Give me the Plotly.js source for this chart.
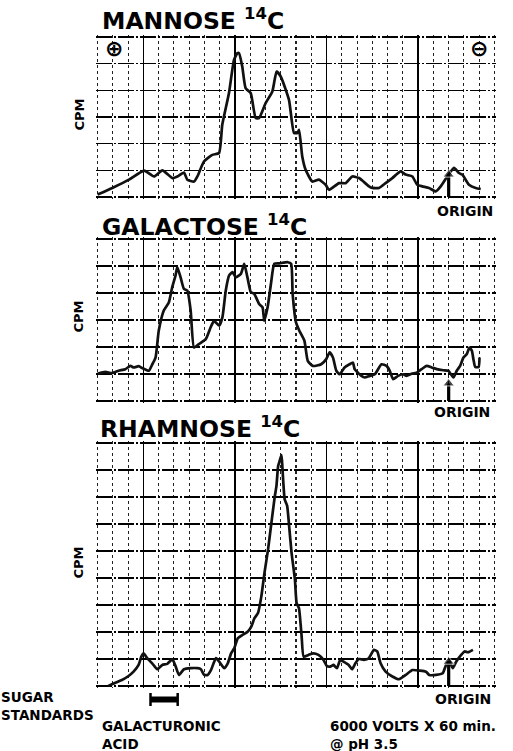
<!DOCTYPE html>
<html>
<head>
<meta charset="utf-8">
<script src="https://cdn.plot.ly/plotly-3.0.1.min.js"></script>
<style>html,body{margin:0;padding:0;background:#fff;}#chart{width:513px;height:751px;}</style>
</head>
<body>
<div id="chart"></div>
<script>
// ---- Data (x in chart-paper divisions from the + end, y in CPM grid divisions) ----
const mannoseX = [0.0,0.97,2.06,3.05,3.70,4.25,4.90,5.23,5.66,5.88,6.32,6.54,6.97,7.52,7.96,8.17,8.61,8.94,9.16,9.27,9.48,9.70,10.03,10.36,10.58,11.01,11.45,11.73,12.0,12.54,12.87,13.09,13.2,13.41,13.63,14.07,14.5,14.94,15.16,15.82,16.25,16.69,17.13,17.78,18.0,18.43,18.87,19.31,19.86,20.18,20.62,20.94,21.27,21.71,22.15,22.48,22.91,23.35,23.67,23.89,24.33,24.77,25.1];
const mannoseY = [0.09,0.34,0.65,0.99,0.77,1.0,0.71,0.77,0.92,0.65,0.58,0.77,1.33,1.58,1.65,2.71,3.90,5.14,5.39,5.39,4.89,4.08,3.90,2.96,2.96,3.52,3.96,4.70,4.52,3.64,2.40,2.40,2.52,1.52,1.02,0.58,0.65,0.46,0.27,0.52,0.52,0.77,0.71,0.40,0.34,0.34,0.52,0.71,0.96,0.84,0.77,0.46,0.40,0.34,0.21,0.40,0.77,1.09,0.90,0.84,0.46,0.34,0.30];

const galactoseX = [0,0.51,0.94,1.38,1.82,2.15,2.37,2.70,2.92,3.36,3.57,3.80,4.01,4.34,4.67,4.89,5.11,5.22,5.44,5.66,5.88,6.10,6.32,6.64,7.09,7.41,7.63,7.96,8.18,8.40,8.62,8.84,9.06,9.39,9.61,9.82,10.04,10.26,10.59,10.81,10.92,11.14,11.36,11.58,11.91,12.46,12.68,12.78,13.0,13.22,13.55,13.77,14.10,14.65,14.98,15.20,15.42,15.64,15.86,16.18,16.51,16.73,16.84,17.05,17.28,17.5,17.83,18.16,18.6,18.93,19.14,19.36,19.69,20.02,20.24,20.57,20.90,21.23,21.56,21.89,22.22,22.65,22.98,23.31,23.53,23.75,23.97,24.19,24.36,24.52,24.62,24.74,24.96,25.02];
const galactoseY = [1.01,1.08,1.03,1.12,1.18,1.30,1.24,1.29,1.22,1.12,1.34,1.61,2.60,3.35,3.65,4.21,4.65,4.96,4.58,4.15,4.09,3.35,1.98,2.11,2.29,2.73,2.97,2.79,3.10,4.09,4.65,4.77,4.58,4.71,5.08,4.58,4.03,3.97,3.59,3.47,2.97,3.47,4.34,5.08,5.10,5.14,5.08,3.97,2.91,2.60,2.23,1.49,1.30,1.36,1.55,1.80,1.61,1.12,0.99,1.24,1.36,1.42,1.18,1.05,0.93,0.87,0.93,0.99,1.36,1.30,1.12,0.81,0.93,0.99,0.93,1.01,1.05,1.18,1.30,1.24,1.18,1.14,1.12,0.87,1.12,1.30,1.61,1.74,1.98,1.86,1.55,1.26,1.26,1.61];

const rhamnoseX = [0.71,1.16,1.60,2.03,2.36,2.69,2.87,3.02,3.25,3.58,3.91,4.24,4.57,4.90,5.12,5.33,5.66,6.11,6.55,6.77,6.98,7.21,7.43,7.76,7.97,8.30,8.53,8.75,8.96,9.19,9.52,9.85,10.07,10.28,10.51,10.73,10.94,11.17,11.39,11.60,11.72,11.83,11.93,12.05,12.11,12.26,12.42,12.55,12.71,12.93,13.04,13.19,13.37,13.50,13.81,14.14,14.47,14.80,15.02,15.24,15.46,15.68,15.90,16.12,16.45,16.67,16.89,17.11,17.44,17.77,18.10,18.32,18.54,18.87,19.31,19.75,20.19,20.63,21.07,21.51,21.73,22.17,22.61,22.83,23.05,23.27,23.49,23.82,24.04,24.26,24.59];
const rhamnoseY = [0,0.12,0.22,0.37,0.53,0.78,1.09,1.21,1.03,0.84,0.62,0.78,0.82,0.99,0.72,0.41,0.62,0.66,0.66,0.62,0.41,0.41,0.59,1.03,0.90,0.66,0.84,1.21,1.40,1.77,1.90,2.02,2.20,2.51,2.70,3.32,4.21,5.06,6.05,6.98,7.41,8.15,8.34,8.55,8.09,6.91,6.67,5.92,4.93,3.94,3.07,2.89,1.83,1.09,1.15,1.21,1.15,0.97,0.74,0.72,0.78,0.66,0.97,0.90,0.78,0.62,0.84,1.0,0.97,1.03,1.34,1.28,0.84,0.53,0.35,0.25,0.41,0.59,0.57,0.53,0.41,0.41,0.47,0.78,0.90,0.66,0.90,1.15,1.28,1.25,1.34];

const panelTitles = ['MANNOSE', 'GALACTOSE', 'RHAMNOSE'];
const isotope = '14';
const yLabel = 'CPM';
const originPos = 23;                      // origin mark position (paper divisions)
const originArrowTop = [0.84, 0.65, 0.9];  // height the origin arrow reaches in each panel
const stdLabel = ['SUGAR', 'STANDARDS'];
const stdNameLines = ['GALACTURONIC', 'ACID'];
const stdFrom = [3.47];
const stdTo = [5.25];
const conditions = ['6000 VOLTS X 60 min.', '@ pH 3.5'];

// ---- Layout helpers ----
const W = 513, H = 751;
const XMAX = 26, PADX = 0.1, PADY = 0.06;
const left = 98, right = 494;               // pixel position of x=0 and x=26
const xs = (right - left) / XMAX;
const ML = left - PADX * xs, MR = (W - right) - PADX * xs;
const PW = W - ML - MR;
const px = v => (v - ML) / PW;
const py = v => (H - v) / H;

const lineStyle = {color: '#111', width: 2.7, shape: 'spline', smoothing: 0.5};
const traces = [
  {x: mannoseX, y: mannoseY, xaxis: 'x', yaxis: 'y', mode: 'lines', line: lineStyle, hoverinfo: 'skip'},
  {x: galactoseX, y: galactoseY, xaxis: 'x2', yaxis: 'y2', mode: 'lines', line: lineStyle, hoverinfo: 'skip'},
  {x: rhamnoseX, y: rhamnoseY, xaxis: 'x3', yaxis: 'y3', mode: 'lines', line: lineStyle, hoverinfo: 'skip'}
];
['', '2', '3'].forEach((s, i) => {
  traces.push({x: [originPos, originPos], y: [0, originArrowTop[i]], xaxis: 'x' + s, yaxis: 'y' + s,
    mode: 'lines+markers', line: {color: '#000', width: 3.2},
    marker: {symbol: 'triangle-up', size: [0, 10], color: '#000'}, hoverinfo: 'skip', cliponaxis: false});
});

function xAx(anchor) {
  return {
    anchor: anchor, range: [-PADX, XMAX + PADX], tick0: 3, dtick: 6, showticklabels: false, ticks: '',
    showgrid: true, gridcolor: '#000', gridwidth: 1.6, zeroline: false, showline: false, fixedrange: true,
    minor: {tick0: 0, dtick: 1, showgrid: true, gridcolor: '#222', gridwidth: 1.1, griddash: '3px,3px', ticks: ''}
  };
}
function yAx(anchor, top, bottom, n) {
  const per = (bottom - top) / n;
  return {
    anchor: anchor, domain: [py(bottom + PADY * per), py(top - PADY * per)], range: [-PADY, n + PADY],
    tick0: 0, dtick: 1, showticklabels: false, ticks: '', showgrid: true, gridcolor: '#000', gridwidth: 1.3,
    griddash: '16px,2px,2px,2px', zeroline: false, showline: false, fixedrange: true
  };
}

const titleFont = {family: 'DejaVu Sans', size: 23.5, color: '#000', weight: 'bold'};
const labFont = {family: 'DejaVu Sans', size: 14, color: '#000', weight: 'bold'};
const lab2Font = {family: 'DejaVu Sans', size: 13.5, color: '#000', weight: 'bold'};
const cpmFont = {family: 'DejaVu Sans', size: 13, color: '#000', weight: 'bold'};
const signFont = {family: 'DejaVu Sans', size: 22, color: '#000', weight: 'bold'};

function txt(text, x, y, font, xanchor, extra) {
  return Object.assign({text: text, x: px(x), y: py(y), xref: 'paper', yref: 'paper', showarrow: false,
    xanchor: xanchor || 'left', yanchor: 'middle', font: font}, extra || {});
}

const annotations = [
  txt(panelTitles[0] + ' <sup>' + isotope + '</sup>C', 100, 20, titleFont),
  txt(panelTitles[1] + ' <sup>' + isotope + '</sup>C', 100, 226, titleFont),
  txt(panelTitles[2] + ' <sup>' + isotope + '</sup>C', 98, 427, titleFont),
  txt(yLabel, 81, 114, cpmFont, 'center', {textangle: -90}),
  txt(yLabel, 80, 316, cpmFont, 'center', {textangle: -90}),
  txt(yLabel, 79, 562, cpmFont, 'center', {textangle: -90}),
  txt('⊕', 114, 49, signFont, 'center'),
  txt('⊖', 479, 49, signFont, 'center'),
  txt('ORIGIN', 465, 211, labFont, 'center'),
  txt('ORIGIN', 462, 412, labFont, 'center'),
  txt('ORIGIN', 463, 699, labFont, 'center'),
  txt(stdLabel.join('<br>'), 0, 706, lab2Font, 'left', {align: 'left'}),
  txt(stdNameLines.join('<br>'), 100, 735, lab2Font, 'left', {align: 'left'}),
  txt(conditions.join('<br>'), 328, 735, lab2Font, 'left', {align: 'left'})
];

const shapes = [];
for (let i = 0; i < stdFrom.length; i++) {
  shapes.push({type: 'rect', xref: 'x3', yref: 'paper', x0: stdFrom[i], x1: stdTo[i], y0: py(702.5), y1: py(696.5), fillcolor: '#000', line: {width: 0}});
  shapes.push({type: 'line', xref: 'x3', yref: 'paper', x0: stdFrom[i], x1: stdFrom[i], y0: py(706), y1: py(693), line: {color: '#000', width: 2.5}});
  shapes.push({type: 'line', xref: 'x3', yref: 'paper', x0: stdTo[i], x1: stdTo[i], y0: py(706), y1: py(693), line: {color: '#000', width: 2.5}});
}

const layout = {
  width: W, height: H, margin: {l: ML, r: MR, t: 0, b: 0},
  paper_bgcolor: '#fff', plot_bgcolor: '#fff', showlegend: false, hovermode: false,
  xaxis: xAx('y'), xaxis2: xAx('y2'), xaxis3: xAx('y3'),
  yaxis: yAx('x', 37, 197, 6),
  yaxis2: yAx('x2', 239, 401, 6),
  yaxis3: yAx('x3', 443, 686, 9),
  annotations: annotations, shapes: shapes
};

Plotly.newPlot('chart', traces, layout, {staticPlot: true, displayModeBar: false});
</script>
</body>
</html>
